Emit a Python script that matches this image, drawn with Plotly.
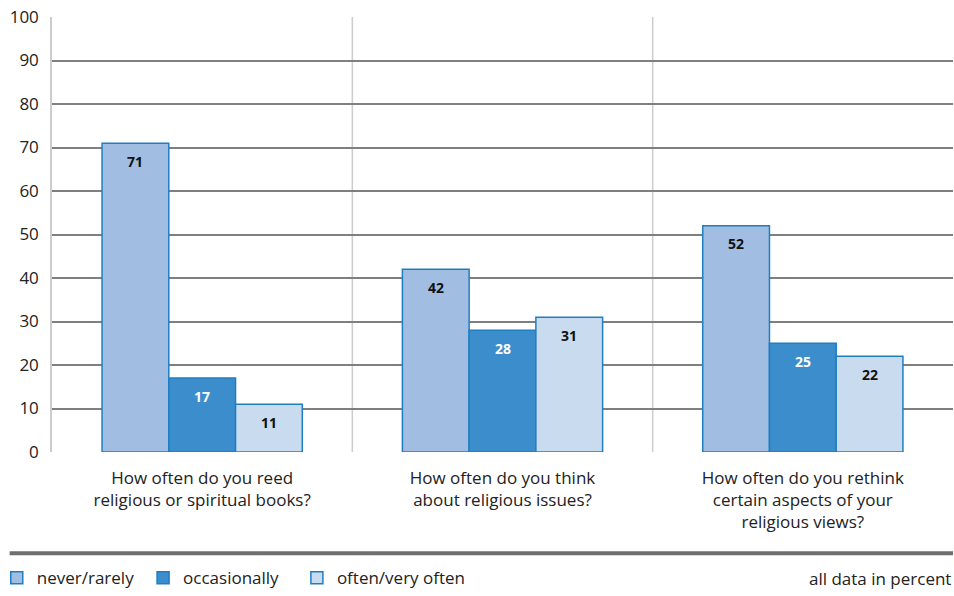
import plotly.graph_objects as go

categories = [
    "How often do you reed<br>religious or spiritual books?",
    "How often do you think<br>about religious issues?",
    "How often do you rethink<br>certain aspects of your<br>religious views?",
]
series_names = ["never/rarely", "occasionally", "often/very often"]
never_rarely = [71, 42, 52]
occasionally = [17, 28, 25]
often = [11, 31, 22]
y_ticks = [0, 10, 20, 30, 40, 50, 60, 70, 80, 90, 100]

FONT = "Open Sans, sans-serif"
fills = ["#A1BDE2", "#3C8DCC", "#C9DBEF"]
text_colors = ["#111111", "#FFFFFF", "#111111"]
legend_pad = ["\u00a0", "\u00a0\u00a0\u00a0", ""]
outline = "#1F7EC2"
BARGAP = 1 / 3
n_series = 3

fig = go.Figure()
xs = list(range(len(categories)))
group_w = 1 - BARGAP
bar_w = group_w / n_series
for j, (name, vals, fc, tc, pad) in enumerate(zip(series_names, [never_rarely, occasionally, often],
                                                 fills, text_colors, legend_pad)):
    fig.add_trace(go.Bar(
        x=xs, y=vals, name=name + pad,
        marker=dict(color=fc, line=dict(color=outline, width=1.5)),
    ))
    off = -group_w / 2 + bar_w * (j + 0.5)
    for x, v in zip(xs, vals):
        fig.add_annotation(x=x + off, y=v, xref="x", yref="y", text=str(v),
                           showarrow=False, yanchor="middle", yshift=-18,
                           font=dict(family=FONT, size=14, color=tc, weight="bold"))

fig.update_layout(
    width=954, height=596,
    margin=dict(l=52, r=1, t=17, b=144, autoexpand=False),
    paper_bgcolor="white", plot_bgcolor="white",
    barmode="group", bargap=BARGAP, bargroupgap=0,
    font=dict(family=FONT, size=16, color="#222222"),
    showlegend=True,
    legend=dict(orientation="h", x=-0.0613, xanchor="left", y=-0.29, yanchor="middle",
                font=dict(family=FONT, size=17, color="#222222"),
                itemwidth=30, traceorder="normal", bgcolor="rgba(0,0,0,0)"),
)
fig.update_xaxes(
    tickmode="array", tickvals=xs, ticktext=categories,
    range=[-0.5, 2.5], showgrid=False, zeroline=False, showline=False,
    ticks="", ticklabelstandoff=14,
    tickfont=dict(family=FONT, size=17, color="#222222"),
)
fig.update_yaxes(
    range=[0, 100], tickmode="array", tickvals=y_ticks,
    showgrid=True, gridcolor="#7F7F7F", gridwidth=1.5,
    zeroline=False, showline=True, linecolor="#CCCCCC", linewidth=1.5,
    ticks="", ticklabelstandoff=8,
    tickfont=dict(family=FONT, size=17, color="#222222"),
)
for xb in [0.5, 1.5]:
    fig.add_shape(type="line", xref="x", yref="paper", x0=xb, x1=xb, y0=0, y1=1,
                  line=dict(color="#CCCCCC", width=1.5), layer="below")
fig.add_shape(type="line", xref="paper", yref="paper", x0=-0.047, x1=1.0, y0=-0.233, y1=-0.233,
              line=dict(color="#6E6E6E", width=4))
fig.add_annotation(text="all data in percent", xref="paper", yref="paper", x=1.0, y=-0.29,
                   xanchor="right", yanchor="middle", showarrow=False,
                   font=dict(family=FONT, size=17, color="#222222"))
fig.write_html("out.html", config={"displayModeBar": False},
               post_script="document.body.style.margin='0';document.body.style.overflow='hidden';")
